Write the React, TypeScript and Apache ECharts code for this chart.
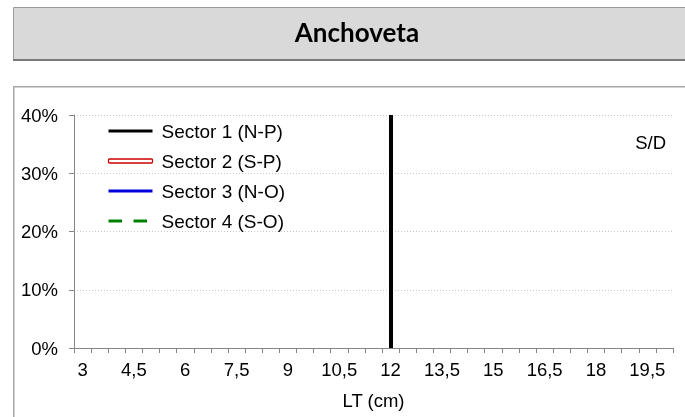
import React, { useEffect, useRef } from "react";
import * as echarts from "echarts";

const TITLE = "Anchoveta";
const NO_DATA_LABEL = "S/D";
const X_NAME = "LT (cm)";

// Length classes (cm), every 0.5 cm
const categories: string[] = [
  "3", "3,5", "4", "4,5", "5", "5,5", "6", "6,5", "7", "7,5", "8", "8,5",
  "9", "9,5", "10", "10,5", "11", "11,5", "12", "12,5", "13", "13,5", "14", "14,5",
  "15", "15,5", "16", "16,5", "17", "17,5", "18", "18,5", "19", "19,5", "20",
];

const seriesNames: string[] = ["Sector 1 (N-P)", "Sector 2 (S-P)", "Sector 3 (N-O)", "Sector 4 (S-O)"];
const seriesColors: string[] = ["#000000", "#cc0000", "#0000dd", "#008000"];

// No data (S/D) for any sector
const sector1: (number | null)[] = [];
const sector2: (number | null)[] = [];
const sector3: (number | null)[] = [];
const sector4: (number | null)[] = [];

// Minimum catch length reference (cm)
const minLength = "12";

const yTicks = { min: 0, max: 40, interval: 10 };

const FONT = "'Liberation Sans', Arial, sans-serif";

export default function App() {
  const ref = useRef<HTMLDivElement>(null);

  useEffect(() => {
    if (!ref.current) return;
    const chart = echarts.init(ref.current, null, { renderer: "svg" });
    const sectorData = [sector1, sector2, sector3, sector4];
    const dashPattern = [13.5, 11.5];

    const series: any[] = sectorData.map((d, i) => ({
      name: seriesNames[i],
      type: "line",
      data: d,
      symbol: "none",
      color: seriesColors[i],
      lineStyle: {
        color: seriesColors[i],
        width: 3,
        type: i === 3 ? dashPattern : "solid",
      },
    }));
    series.push({
      name: "Talla mínima",
      type: "line",
      data: [],
      symbol: "none",
      silent: true,
      markLine: {
        silent: true,
        symbol: ["none", "none"],
        label: { show: false },
        lineStyle: { color: "#000", width: 4, type: "solid" },
        emphasis: { disabled: true },
        data: [{ xAxis: minLength }],
      },
    });

    const legendData = seriesNames.map((n, i) => {
      if (i === 1) {
        return {
          name: n,
          icon: "roundRect",
          itemStyle: { color: "#ffffff", borderColor: seriesColors[i], borderWidth: 1.3, opacity: 1 },
        };
      }
      return {
        name: n,
        itemStyle: { opacity: 0 },
        lineStyle: { width: 3, color: seriesColors[i], type: i === 3 ? dashPattern : "solid" },
      };
    });

    chart.setOption({
      animation: false,
      title: {
        text: TITLE,
        left: 357,
        top: 19,
        textAlign: "center",
        padding: 0,
        textStyle: { fontFamily: "Lato, 'Open Sans', sans-serif", fontWeight: "bold", fontSize: 26, color: "#000" },
      },
      graphic: [
        {
          type: "rect",
          z: -10,
          shape: { x: 13.5, y: 7.5, width: 720, height: 52 },
          style: { fill: "#d9d9d9", stroke: "#9a9a9a", lineWidth: 1 },
          silent: true,
        },
        {
          type: "line",
          z: -9,
          shape: { x1: 13, y1: 60, x2: 700, y2: 60 },
          style: { stroke: "#7a7a7a", lineWidth: 2 },
          silent: true,
        },
        {
          type: "rect",
          z: -10,
          shape: { x: 13.75, y: 86.75, width: 720, height: 400 },
          style: { fill: "none", stroke: "#a6a6a6", lineWidth: 1.5 },
          silent: true,
        },
        {
          type: "text",
          x: 666,
          y: 142,
          style: {
            text: NO_DATA_LABEL,
            fontFamily: FONT,
            fontSize: 18.5,
            fill: "#000",
            align: "right",
            verticalAlign: "middle",
          },
          silent: true,
        },
      ],
      legend: {
        data: legendData,
        orient: "vertical",
        left: 107,
        top: 121,
        padding: 0,
        itemWidth: 44,
        itemHeight: 4,
        itemGap: 10,
        selectedMode: false,
        textStyle: { fontFamily: FONT, fontSize: 19, color: "#000", lineHeight: 20, padding: [0, 0, 0, 4] },
      },
      grid: { left: 74, right: 12, top: 115, bottom: 69, containLabel: false },
      xAxis: {
        type: "category",
        data: categories,
        boundaryGap: true,
        name: X_NAME,
        nameLocation: "middle",
        nameGap: 43,
        nameTextStyle: { fontFamily: FONT, fontSize: 18.5, color: "#000" },
        axisLine: { show: true, lineStyle: { color: "#868686", width: 1 } },
        axisTick: { show: true, interval: 0, length: 5, lineStyle: { color: "#868686" } },
        axisLabel: { interval: 2, margin: 12, fontFamily: FONT, fontSize: 18.5, color: "#000" },
        splitLine: { show: false },
      },
      yAxis: {
        type: "value",
        min: yTicks.min,
        max: yTicks.max,
        interval: yTicks.interval,
        axisLine: { show: true, lineStyle: { color: "#868686", width: 1 } },
        axisTick: { show: true, length: 5, lineStyle: { color: "#868686" } },
        axisLabel: { formatter: "{value}%", margin: 16, fontFamily: FONT, fontSize: 18.5, color: "#000" },
        splitLine: { show: true, lineStyle: { color: "#c8c8c8", type: [1, 2], width: 1 } },
      },
      series,
    });

    return () => chart.dispose();
  }, []);

  return (
    <div
      ref={ref}
      style={{ position: "fixed", left: 0, top: 0, width: 685, height: 417 }}
    />
  );
}
